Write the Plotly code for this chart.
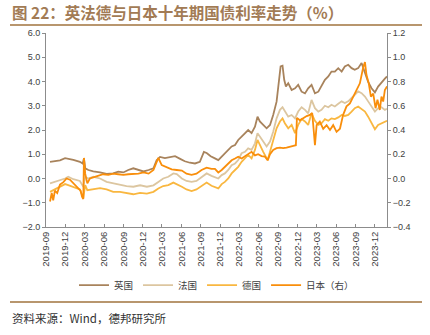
import plotly.graph_objects as go

# ---------------- data ----------------
uk_dates = ["2019-09-20","2019-10-13","2019-11-06","2019-11-30","2019-12-23","2020-01-08","2020-02-08","2020-02-21",
            "2020-02-27","2020-03-04","2020-03-19","2020-04-11","2020-05-13","2020-06-13","2020-07-14","2020-08-07",
            "2020-08-31","2020-09-23","2020-10-17","2020-11-10","2020-12-04","2020-12-28","2021-01-20","2021-02-04",
            "2021-02-20","2021-03-15","2021-04-08","2021-05-02","2021-05-26","2021-06-17","2021-07-11","2021-08-04",
            "2021-08-27","2021-09-15","2021-09-28","2021-10-17","2021-11-06","2021-11-22","2021-12-08","2021-12-23",
            "2022-01-08","2022-01-24","2022-02-09","2022-02-24","2022-03-12","2022-03-28","2022-04-12","2022-04-28",
            "2022-05-14","2022-05-26","2022-06-06","2022-06-22","2022-07-08","2022-07-24","2022-08-08","2022-08-24",
            "2022-09-01","2022-09-12","2022-09-21","2022-09-29","2022-10-07","2022-10-18","2022-11-03","2022-11-19",
            "2022-12-04","2022-12-20","2023-01-05","2023-01-20","2023-02-05","2023-02-21","2023-03-09","2023-03-24",
            "2023-04-09","2023-04-25","2023-05-10","2023-05-26","2023-06-11","2023-06-27","2023-07-12","2023-07-28",
            "2023-08-13","2023-08-28","2023-09-13","2023-09-29","2023-10-15","2023-10-30","2023-11-15","2023-12-01",
            "2023-12-16","2024-01-01","2024-01-17","2024-01-27"]
uk_values = [0.69,0.71,0.75,0.84,0.81,0.77,0.69,0.62,
             0.83,0.42,0.35,0.29,0.25,0.19,0.21,0.28,
             0.25,0.35,0.42,0.35,0.29,0.35,0.42,0.75,
             0.89,0.84,0.89,0.92,0.81,0.71,0.65,0.62,
             0.69,1.10,1.05,0.92,0.83,0.76,0.90,1.04,
             1.18,1.32,1.38,1.59,1.73,1.87,2.00,1.87,
             2.14,2.55,2.35,2.21,2.07,2.21,2.62,3.17,
             3.79,4.62,4.65,4.07,3.79,3.93,3.65,3.72,
             3.86,3.58,3.51,3.72,3.86,3.51,3.58,3.79,
             4.07,4.21,4.41,4.41,4.55,4.41,4.62,4.69,
             4.55,4.48,4.55,4.76,4.34,3.98,3.72,3.55,
             3.79,3.98,4.12,4.21]

fr_dates = ["2019-09-20","2019-10-13","2019-11-06","2019-11-30","2019-12-15","2020-01-08","2020-02-08","2020-02-24",
            "2020-03-04","2020-03-19","2020-04-11","2020-05-13","2020-06-13","2020-07-14","2020-08-15","2020-09-15",
            "2020-10-17","2020-11-18","2020-12-20","2021-01-20","2021-02-12","2021-03-07","2021-03-31","2021-04-24",
            "2021-05-10","2021-06-03","2021-06-25","2021-07-19","2021-08-11","2021-09-04","2021-09-28","2021-10-21",
            "2021-11-06","2021-11-22","2021-12-08","2021-12-23","2022-01-08","2022-01-24","2022-02-09","2022-02-24",
            "2022-03-12","2022-03-28","2022-04-12","2022-04-28","2022-05-14","2022-05-26","2022-06-06","2022-06-22",
            "2022-07-08","2022-07-24","2022-08-08","2022-08-24","2022-09-09","2022-09-21","2022-10-02","2022-10-18",
            "2022-11-03","2022-11-19","2022-12-04","2022-12-20","2023-01-05","2023-01-20","2023-02-05","2023-02-21",
            "2023-03-09","2023-03-24","2023-04-09","2023-04-25","2023-05-10","2023-05-26","2023-06-11","2023-06-27",
            "2023-07-12","2023-07-28","2023-08-13","2023-08-28","2023-09-13","2023-09-29","2023-10-15","2023-10-30",
            "2023-11-15","2023-12-01","2023-12-16","2024-01-01","2024-01-17","2024-01-27"]
fr_values = [-0.20,-0.14,-0.07,0.00,0.07,-0.03,-0.10,-0.34,
             0.07,0.00,0.07,0.00,-0.14,-0.20,-0.24,-0.31,
             -0.34,-0.28,-0.34,-0.28,-0.14,0.00,0.07,0.21,
             0.18,0.00,-0.10,-0.14,-0.10,0.07,0.21,0.11,
             0.07,0.00,0.14,0.21,0.35,0.55,0.62,0.76,
             1.04,1.10,1.24,1.18,1.45,1.87,1.73,1.52,
             1.32,1.52,1.93,2.48,2.83,2.94,2.76,2.55,
             2.62,2.48,2.76,2.94,2.83,2.69,3.24,2.90,
             2.76,2.83,3.00,2.94,3.04,2.97,3.08,3.18,
             3.11,3.18,3.32,3.45,3.59,3.52,3.38,3.18,
             2.97,2.76,2.90,2.94,2.83,2.88]

de_dates = ["2019-09-20","2019-10-13","2019-11-06","2019-11-30","2019-12-15","2020-01-08","2020-02-08","2020-02-24",
            "2020-03-04","2020-03-14","2020-04-11","2020-05-13","2020-06-13","2020-07-14","2020-08-15","2020-09-15",
            "2020-10-17","2020-11-18","2020-12-20","2021-01-20","2021-02-12","2021-03-07","2021-03-31","2021-04-24",
            "2021-05-10","2021-06-03","2021-06-25","2021-07-19","2021-08-11","2021-09-04","2021-09-28","2021-10-21",
            "2021-11-06","2021-11-22","2021-12-08","2021-12-23","2022-01-08","2022-01-24","2022-02-09","2022-02-24",
            "2022-03-12","2022-03-28","2022-04-12","2022-04-28","2022-05-14","2022-05-26","2022-06-06","2022-06-22",
            "2022-07-13","2022-07-24","2022-08-08","2022-08-24","2022-09-09","2022-09-21","2022-10-02","2022-10-18",
            "2022-11-03","2022-11-19","2022-12-04","2022-12-20","2023-01-05","2023-01-20","2023-02-05","2023-02-21",
            "2023-03-09","2023-03-24","2023-04-09","2023-04-25","2023-05-10","2023-05-26","2023-06-11","2023-06-27",
            "2023-07-12","2023-07-28","2023-08-13","2023-08-28","2023-09-13","2023-09-29","2023-10-15","2023-10-30",
            "2023-11-15","2023-12-01","2023-12-16","2024-01-01","2024-01-17","2024-01-27"]
de_values = [-0.55,-0.45,-0.34,-0.23,-0.27,-0.34,-0.45,-0.80,
             -0.27,-0.48,-0.45,-0.40,-0.45,-0.55,-0.55,-0.59,
             -0.65,-0.59,-0.62,-0.55,-0.41,-0.31,-0.27,-0.17,
             -0.23,-0.34,-0.45,-0.52,-0.45,-0.31,-0.17,-0.30,
             -0.34,-0.41,-0.23,-0.14,0.00,0.21,0.35,0.48,
             0.69,0.83,0.97,0.83,1.18,1.59,1.38,1.10,
             0.76,1.10,1.59,2.07,2.35,2.48,2.28,2.07,
             2.21,1.87,2.21,2.45,2.35,2.21,2.69,2.38,
             2.21,2.28,2.45,2.38,2.48,2.45,2.52,2.62,
             2.58,2.62,2.76,2.90,2.97,2.86,2.76,2.55,
             2.28,2.03,2.21,2.28,2.35,2.38]

jp_dates = ["2019-09-20","2019-09-28","2019-10-05","2019-10-13","2019-10-24","2019-11-06","2019-11-22","2019-12-07",
            "2019-12-23","2020-01-08","2020-01-27","2020-02-11","2020-02-18","2020-02-24","2020-02-27","2020-03-04",
            "2020-03-14","2020-03-26","2020-04-11","2020-05-05","2020-05-28","2020-06-21","2020-07-14","2020-08-07",
            "2020-08-31","2020-09-23","2020-10-17","2020-11-10","2020-12-04","2020-12-28","2021-01-20","2021-02-04",
            "2021-02-12","2021-02-28","2021-03-23","2021-04-16","2021-05-10","2021-06-03","2021-06-25","2021-07-19",
            "2021-08-11","2021-09-04","2021-09-28","2021-10-21","2021-11-06","2021-11-22","2021-12-08","2021-12-23",
            "2022-01-08","2022-01-24","2022-02-09","2022-02-24","2022-03-12","2022-03-28","2022-04-12","2022-04-28",
            "2022-05-14","2022-05-29","2022-06-14","2022-06-30","2022-07-13","2022-07-24","2022-08-08","2022-08-24",
            "2022-09-09","2022-09-24","2022-10-10","2022-10-26","2022-11-11","2022-11-23","2022-11-28","2022-12-12",
            "2022-12-28","2023-01-13","2023-01-28","2023-02-08","2023-02-15","2023-02-21","2023-03-01","2023-03-16",
            "2023-04-01","2023-04-17","2023-05-03","2023-05-18","2023-06-03","2023-06-19","2023-07-04","2023-07-20",
            "2023-08-05","2023-08-21","2023-09-05","2023-09-21","2023-10-07","2023-10-15","2023-10-22","2023-11-02",
            "2023-11-12","2023-11-23","2023-12-04","2023-12-13","2023-12-24","2024-01-01","2024-01-09","2024-01-17",
            "2024-01-27"]
jp_values = [-0.19,-0.12,-0.18,-0.10,-0.12,-0.05,-0.03,0.00,
             -0.01,-0.04,-0.07,-0.10,-0.15,-0.17,0.17,0.04,
             -0.04,0.00,0.01,0.02,0.035,0.03,0.04,0.035,
             0.03,0.035,0.035,0.04,0.05,0.04,0.07,0.14,
             0.17,0.11,0.09,0.075,0.07,0.065,0.04,0.03,
             0.04,0.07,0.09,0.08,0.08,0.05,0.07,0.095,
             0.125,0.15,0.165,0.18,0.165,0.185,0.20,0.22,
             0.19,0.20,0.185,0.18,0.15,0.20,0.235,0.25,
             0.255,0.25,0.255,0.265,0.27,0.275,0.50,0.48,
             0.50,0.515,0.525,0.54,0.40,0.275,0.44,0.47,
             0.41,0.44,0.40,0.44,0.385,0.41,0.525,0.595,
             0.62,0.675,0.73,0.785,0.92,0.96,0.855,0.785,
             0.675,0.70,0.58,0.65,0.565,0.675,0.635,0.73,
             0.76]

tick_vals = ["2019-09-01","2019-12-01","2020-03-01","2020-06-01","2020-09-01","2020-12-01",
             "2021-03-01","2021-06-01","2021-09-01","2021-12-01","2022-03-01","2022-06-01",
             "2022-09-01","2022-12-01","2023-03-01","2023-06-01","2023-09-01","2023-12-01"]
tick_text = ["2019-09","2019-12","2020-03","2020-06","2020-09","2020-12",
             "2021-03","2021-06","2021-09","2021-12","2022-03","2022-06",
             "2022-09","2022-12","2023-03","2023-06","2023-09","2023-12"]

series_names = ["英国", "法国", "德国", "日本（右）"]
colors = ["#A8835C", "#DCC6A0", "#F9B740", "#F98E0B"]

title_text = "图 22：英法德与日本十年期国债利率走势（%）"
source_text = "资料来源：Wind，德邦研究所"

# ---------------- figure ----------------
fig = go.Figure()
fig.add_trace(go.Scatter(x=uk_dates, y=uk_values, name=series_names[0], mode="lines",
                         line=dict(color=colors[0], width=1.8)))
fig.add_trace(go.Scatter(x=fr_dates, y=fr_values, name=series_names[1], mode="lines",
                         line=dict(color=colors[1], width=1.8)))
fig.add_trace(go.Scatter(x=de_dates, y=de_values, name=series_names[2], mode="lines",
                         line=dict(color=colors[2], width=1.8)))
fig.add_trace(go.Scatter(x=jp_dates, y=jp_values, name=series_names[3], mode="lines",
                         line=dict(color=colors[3], width=1.8), yaxis="y2"))

tick_font = dict(family="Liberation Sans, Arial, sans-serif", size=9, color="#404040")
axis_col = "#8C8C8C"

fig.update_layout(
    width=430, height=335,
    margin=dict(l=46, r=43, t=33, b=108),
    paper_bgcolor="white", plot_bgcolor="white",
    showlegend=True,
    legend=dict(orientation="h", x=0.5, xanchor="center", y=-0.30, yanchor="middle",
                font=dict(family="Noto Sans CJK SC", size=9.5, color="#404040"),
                itemwidth=30, tracegroupgap=0, bgcolor="rgba(0,0,0,0)"),
    xaxis=dict(type="date", range=["2019-09-01", "2024-01-27"],
               tickmode="array", tickvals=tick_vals, ticktext=tick_text,
               tickangle=-90, ticks="inside", ticklen=3, tickcolor=axis_col,
               showline=True, linecolor=axis_col, linewidth=1,
               showgrid=False, zeroline=False,
               tickfont=dict(family="Liberation Sans, Arial, sans-serif", size=9.5, color="#404040")),
    yaxis=dict(range=[-2, 6], dtick=1, tick0=0, tickformat=".1f",
               ticks="outside", ticklen=3, tickcolor=axis_col,
               showline=True, linecolor=axis_col, linewidth=1,
               showgrid=False, zeroline=False, tickfont=tick_font),
    yaxis2=dict(range=[-0.4, 1.2], dtick=0.2, tick0=0, tickformat=".1f",
                overlaying="y", side="right",
                ticks="outside", ticklen=3, tickcolor=axis_col,
                showline=True, linecolor=axis_col, linewidth=1,
                showgrid=False, zeroline=False, tickfont=tick_font),
)

x0p = (10 - 46) / 341
x1p = (422 - 46) / 341
fig.add_shape(type="line", xref="paper", yref="paper", x0=x0p, x1=x1p,
              y0=(227 - 25) / 194, y1=(227 - 25) / 194,
              line=dict(color="#B8966E", width=2))
fig.add_shape(type="line", xref="paper", yref="paper", x0=x0p, x1=x1p,
              y0=(227 - 302) / 194, y1=(227 - 302) / 194,
              line=dict(color="#B8966E", width=2))

fig.add_annotation(text="<b>" + title_text + "</b>", xref="paper", yref="paper",
                   x=x0p, y=(227 - 12) / 194, xanchor="left", yanchor="middle",
                   showarrow=False,
                   font=dict(family="Noto Sans CJK SC", size=15.5, color="#A27B55"))
fig.add_annotation(text=source_text, xref="paper", yref="paper",
                   x=x0p, y=(227 - 318) / 194, xanchor="left", yanchor="middle",
                   showarrow=False,
                   font=dict(family="Noto Sans CJK SC", size=11.5, color="#333333"))

fig.write_html("out.html")
